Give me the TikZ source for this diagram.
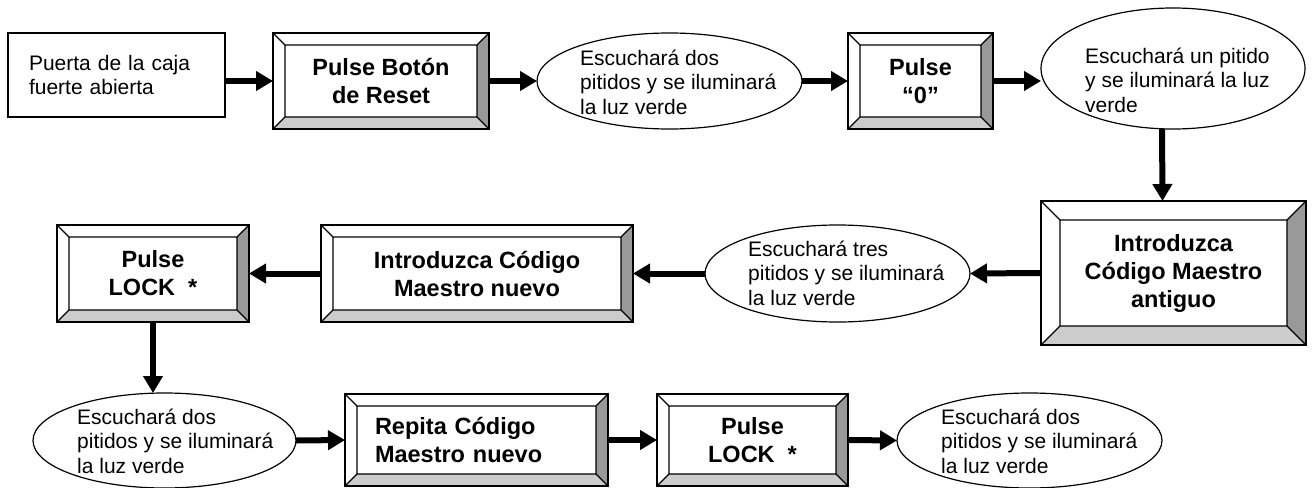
\documentclass[tikz,border=0pt]{standalone}
\usepackage{fontspec}
\setmainfont{Liberation Sans}
\usetikzlibrary{shapes.geometric,arrows.meta,calc}
\definecolor{bevdark}{gray}{0.6}
\definecolor{bevlight}{gray}{0.8}
\def\bv{12}
\tikzset{
  bev/.code={\def\bv{#1}},
  regfont/.style={font=\fontsize{21}{24.5}\selectfont},
  boldfont/.style={font=\fontsize{23.5}{28}\selectfont\bfseries},
  bevelbox/.style={rectangle, draw, line width=1.6pt, inner sep=0pt, outer sep=0pt,
    align=center, boldfont,
    path picture={
      \path (path picture bounding box.north west) coordinate (pA)
            (path picture bounding box.north east) coordinate (pB)
            (path picture bounding box.south east) coordinate (pC)
            (path picture bounding box.south west) coordinate (pD)
            ([xshift=\bv pt,yshift=-\bv pt]path picture bounding box.north west) coordinate (qA)
            ([xshift=-\bv pt,yshift=-\bv pt]path picture bounding box.north east) coordinate (qB)
            ([xshift=-\bv pt,yshift=\bv pt]path picture bounding box.south east) coordinate (qC)
            ([xshift=\bv pt,yshift=\bv pt]path picture bounding box.south west) coordinate (qD);
      \fill[bevlight] (pD) -- (pC) -- (qC) -- (qD) -- cycle;
      \fill[bevdark] (pB) -- (pC) -- (qC) -- (qB) -- cycle;
      \draw[line width=1.2pt] (qA) rectangle (qC) (pA) -- (qA) (pB) -- (qB) (pC) -- (qC) (pD) -- (qD);
    }},
  plainbox/.style={rectangle, draw, line width=1.6pt, inner sep=0pt, outer sep=0pt, align=left, regfont},
  ell/.style={ellipse, draw, line width=1.2pt, inner sep=0pt, outer sep=0pt},
  etext/.style={inner sep=0pt, anchor=west, align=left, regfont},
  conn/.style={line width=6pt, -{Triangle[length=17pt,width=19pt]}},
}
\begin{document}
\begin{tikzpicture}[x=1pt,y=-1pt]
\useasboundingbox (0,0) rectangle (1313,487);
% top row
\node[plainbox, minimum width=217pt, minimum height=84pt, text width=175pt] (s0) at (116.5,75) {Puerta de la caja\\fuerte abierta};
\node[bevelbox, minimum width=216pt, minimum height=96pt] (b1) at (381,81) {Pulse Botón\\de Reset};
\node[ell, minimum width=265pt, minimum height=96pt] (e1) at (669.5,81) {};
\node[etext] (e1t) at (580,82) {Escuchará dos\\pitidos y se iluminará\\la luz verde};
\node[bevelbox, minimum width=145pt, minimum height=96pt] (b2) at (920.5,81) {Pulse\\“0”};
\node[ell, minimum width=264pt, minimum height=121pt] (e2) at (1173,68.5) {};
\node[etext] (e2t) at (1085,80) {Escuchará un pitido\\y se iluminará la luz\\verde};
% middle row
\node[bevelbox, bev=19, minimum width=265pt, minimum height=144pt] (b3) at (1173.5,273) {Introduzca\\Código Maestro\\antiguo};
\node[ell, minimum width=265pt, minimum height=97pt] (e3) at (837.5,273.5) {};
\node[etext] (e3t) at (748,273) {Escuchará tres\\pitidos y se iluminará\\la luz verde};
\node[bevelbox, minimum width=312pt, minimum height=97pt] (b4) at (477,273.5) {Introduzca Código\\Maestro nuevo};
\node[bevelbox, minimum width=192pt, minimum height=97pt] (b5) at (153,273.5) {Pulse\\LOCK\ \ *};
% bottom row
\node[ell, minimum width=263pt, minimum height=95pt] (e4) at (164.5,440.5) {};
\node[etext] (e4t) at (77,441) {Escuchará dos\\pitidos y se iluminará\\la luz verde};
\node[bevelbox, minimum width=263pt, minimum height=92pt, text width=203pt, align=left] (b6) at (476.5,440) {Repita Código\\Maestro nuevo};
\node[bevelbox, minimum width=191pt, minimum height=92pt] (b7) at (752.5,440) {Pulse\\LOCK\ \ *};
\node[ell, minimum width=265pt, minimum height=95pt] (e5) at (1029.5,440.5) {};
\node[etext] (e5t) at (941,441) {Escuchará dos\\pitidos y se iluminará\\la luz verde};
% connectors
\draw[conn] (b1.west -| s0.east) -- (b1.west);
\draw[conn] (b1.east) -- (e1.west);
\draw[conn] (e1.east) -- (b2.west);
\draw[conn] (b2.east) -- (b2.east -| e2.west);
\draw[conn] ([xshift=-11pt]e2.south) -- ([xshift=-11pt]b3.north);
\draw[conn] (b3.west) -- (e3.east);
\draw[conn] (e3.west) -- (b4.east);
\draw[conn] (b4.west) -- (b5.east);
\draw[conn] (b5.south) -- (b5.south |- e4.north);
\draw[conn] (e4.east) -- (b6.west);
\draw[conn] (b6.east) -- (b7.west);
\draw[conn] (b7.east) -- (e5.west);
\end{tikzpicture}
\end{document}
